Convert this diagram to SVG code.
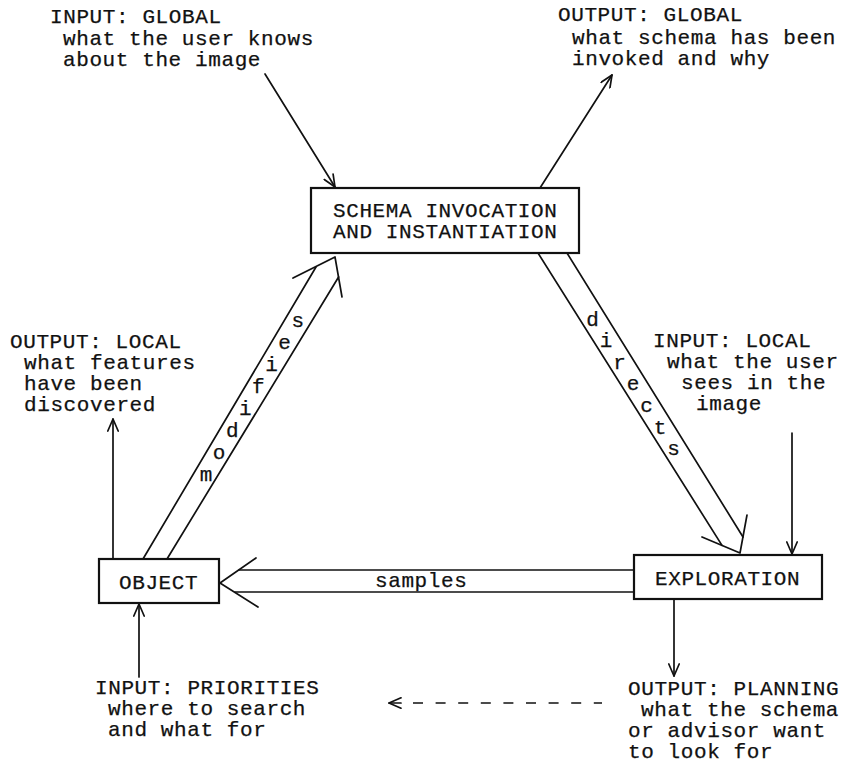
<svg xmlns="http://www.w3.org/2000/svg" width="841" height="763" viewBox="0 0 841 763">
<style>
  text { font-family: "Liberation Mono", "Courier New", monospace; font-size: 21px; letter-spacing: 0.6px; fill: #111; stroke: #111; stroke-width: 0.25; }
  .c { text-anchor: middle; letter-spacing: 0; }
  .box { fill: #fff; stroke: #111; stroke-width: 2.2; }
  .ln { fill: none; stroke: #111; stroke-width: 1.7; stroke-linecap: round; stroke-linejoin: round; }
  .arr { marker-end: url(#ah); }
  .dash { stroke-dasharray: 10 12.6; stroke-linecap: butt; }
</style>
<defs>
  <marker id="ah" viewBox="0 0 14 12" refX="13" refY="6" markerWidth="14" markerHeight="12" markerUnits="userSpaceOnUse" orient="auto">
    <path d="M1,0.8 L13,6 L1,11.2" fill="none" stroke="#111" stroke-width="1.7" stroke-linecap="round" stroke-linejoin="round"/>
  </marker>
</defs>
<rect width="841" height="763" fill="#fff"/>

<g id="connectors">
  <!-- input global -->
  <line class="ln arr" x1="265" y1="74" x2="335" y2="187"/>
  <!-- output global -->
  <line class="ln arr" x1="540" y1="188" x2="612" y2="75"/>
  <!-- output local -->
  <line class="ln arr" x1="113" y1="559" x2="113" y2="419"/>
  <!-- input local -->
  <line class="ln arr" x1="792" y1="433" x2="792" y2="554"/>
  <!-- output planning -->
  <line class="ln arr" x1="674" y1="599" x2="674" y2="676"/>
  <!-- input priorities -->
  <line class="ln arr" x1="139" y1="677" x2="139" y2="604"/>
  <!-- dashed planning to priorities -->
  <line class="ln arr" x1="401" y1="703" x2="389" y2="703"/>
  <line class="ln dash" x1="413" y1="703" x2="602" y2="703"/>
  <!-- modifies double arrow -->
  <g id="modifies">
    <line class="ln" x1="143" y1="559" x2="316" y2="267"/>
    <line class="ln" x1="167" y1="559" x2="338.6" y2="277"/>
    <polyline class="ln" points="293,278 335,257 342,297"/>
    <text class="c" x="206" y="481">m</text>
    <text class="c" x="219.1" y="459">o</text>
    <text class="c" x="232.2" y="437">d</text>
    <text class="c" x="245.3" y="415">i</text>
    <text class="c" x="258.4" y="393">f</text>
    <text class="c" x="271.5" y="371">i</text>
    <text class="c" x="284.6" y="349">e</text>
    <text class="c" x="297.7" y="327">s</text>
  </g>
  <!-- directs double arrow -->
  <g id="directs">
    <line class="ln" x1="538" y1="253" x2="722" y2="545.4"/>
    <line class="ln" x1="567" y1="253" x2="743" y2="537"/>
    <polyline class="ln" points="702,537 740,553 747,515"/>
    <text class="c" x="592.5" y="325.5">d</text>
    <text class="c" x="606" y="347.1">i</text>
    <text class="c" x="619.5" y="368.7">r</text>
    <text class="c" x="633" y="390.3">e</text>
    <text class="c" x="646.5" y="411.9">c</text>
    <text class="c" x="660" y="433.5">t</text>
    <text class="c" x="673.5" y="455.1">s</text>
  </g>
  <!-- samples double arrow -->
  <g id="samples">
    <line class="ln" x1="634" y1="570" x2="239" y2="570"/>
    <line class="ln" x1="634" y1="592" x2="235" y2="592"/>
    <polyline class="ln" points="256,558 220,583 258,607"/>
    <text x="375" y="587">samples</text>
  </g>
</g>

<g id="schema">
  <rect class="box" x="311" y="188" width="268" height="65"/>
  <text x="333" y="217">SCHEMA INVOCATION</text>
  <text x="333" y="238">AND INSTANTIATION</text>
</g>
<g id="object">
  <rect class="box" x="99" y="559" width="120" height="44"/>
  <text x="119" y="589">OBJECT</text>
</g>
<g id="exploration">
  <rect class="box" x="634" y="555" width="188" height="44"/>
  <text x="655" y="585">EXPLORATION</text>
</g>

<g id="input-global">
  <text x="50" y="23">INPUT: GLOBAL</text>
  <text x="63" y="45">what the user knows</text>
  <text x="63" y="66">about the image</text>
</g>
<g id="output-global">
  <text x="558" y="21">OUTPUT: GLOBAL</text>
  <text x="572" y="44">what schema has been</text>
  <text x="572" y="65">invoked and why</text>
</g>
<g id="output-local">
  <text x="10" y="348">OUTPUT: LOCAL</text>
  <text x="24" y="369">what features</text>
  <text x="24" y="390">have been</text>
  <text x="24" y="411">discovered</text>
</g>
<g id="input-local">
  <text x="653" y="347">INPUT: LOCAL</text>
  <text x="667" y="368">what the user</text>
  <text x="681" y="389">sees in the</text>
  <text x="696" y="410">image</text>
</g>
<g id="input-priorities">
  <text x="95" y="694">INPUT: PRIORITIES</text>
  <text x="108" y="715">where to search</text>
  <text x="108" y="736">and what for</text>
</g>
<g id="output-planning">
  <text x="628" y="695">OUTPUT: PLANNING</text>
  <text x="641" y="716">what the schema</text>
  <text x="628" y="737">or advisor want</text>
  <text x="628" y="758">to look for</text>
</g>
</svg>
